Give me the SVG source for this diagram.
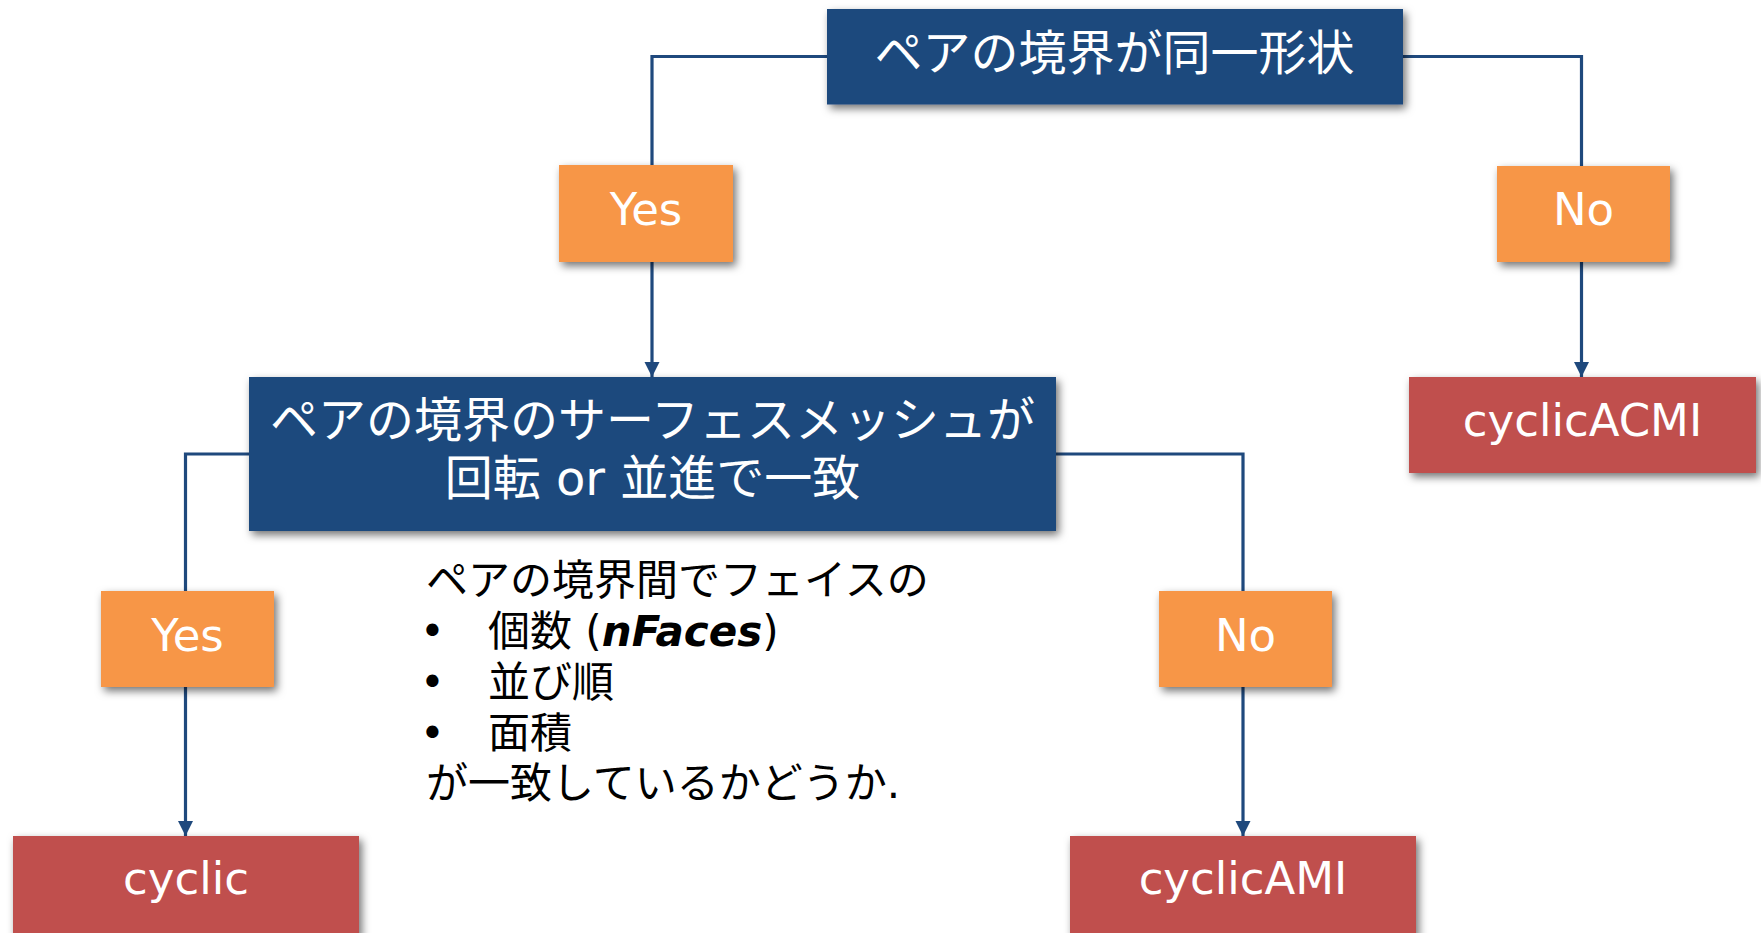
<svg xmlns="http://www.w3.org/2000/svg" width="1761" height="933" viewBox="0 0 1761 933">
<style>
.t{font-family:"DejaVu Sans","Noto Sans CJK JP",sans-serif;}
.w{fill:#ffffff;text-anchor:middle;}
.q{font-size:48px;}
.l{font-size:45px;}
.blue{fill:#1F497D;}
.org{fill:#F79646;}
.red{fill:#C0504D;}
.c{fill:none;stroke:#1F497D;stroke-width:3.2;}
.body{font-size:42px;fill:#000000;}
</style>
<defs>
<filter id="sh" x="-20%" y="-30%" width="140%" height="170%">
<feDropShadow dx="3" dy="4" stdDeviation="4" flood-color="#000" flood-opacity="0.55"/>
</filter>
<marker id="ah" markerUnits="userSpaceOnUse" markerWidth="16" markerHeight="16" refX="15" refY="7.5" orient="auto">
<path d="M0,0 L15,7.5 L0,15 z" fill="#1F497D"/>
</marker>
</defs>
<rect width="1761" height="933" fill="#ffffff"/>
<g id="connectors">
<path class="c" d="M827,56.5 H652 V166"/>
<path class="c" d="M1402,56.5 H1581.5 V166"/>
<path class="c" d="M652,261 V377" marker-end="url(#ah)"/>
<path class="c" d="M1581.5,261 V377" marker-end="url(#ah)"/>
<path class="c" d="M250,454 H185.5 V592"/>
<path class="c" d="M1055,454 H1243 V592"/>
<path class="c" d="M185.5,686 V836" marker-end="url(#ah)"/>
<path class="c" d="M1243,686 V836" marker-end="url(#ah)"/>
</g>
<g id="q1">
<rect class="blue" x="827" y="9" width="576" height="95.5" filter="url(#sh)"/>
<text class="t w q" x="1114.5" y="70">ペアの境界が同一形状</text>
</g>
<g id="yes1">
<rect class="org" x="559" y="165" width="174" height="97" filter="url(#sh)"/>
<text class="t w l" x="646" y="225">Yes</text>
</g>
<g id="no1">
<rect class="org" x="1497" y="166" width="173" height="96" filter="url(#sh)"/>
<text class="t w l" x="1583.5" y="225">No</text>
</g>
<g id="q2">
<rect class="blue" x="249" y="377" width="807" height="154" filter="url(#sh)"/>
<text class="t w q" x="652.5" y="437">ペアの境界のサーフェスメッシュが</text>
<text class="t w q" x="652.5" y="495">回転 or 並進で一致</text>
</g>
<g id="acmi">
<rect class="red" x="1409" y="377" width="347" height="96" filter="url(#sh)"/>
<text class="t w l" x="1582.5" y="436">cyclicACMI</text>
</g>
<g id="yes2">
<rect class="org" x="101" y="591" width="173" height="96" filter="url(#sh)"/>
<text class="t w l" x="187.5" y="651">Yes</text>
</g>
<g id="no2">
<rect class="org" x="1159" y="591" width="173" height="96" filter="url(#sh)"/>
<text class="t w l" x="1245.5" y="651">No</text>
</g>
<g id="cyclic">
<rect class="red" x="13" y="836" width="346" height="100" filter="url(#sh)"/>
<text class="t w l" x="186" y="894">cyclic</text>
</g>
<g id="ami">
<rect class="red" x="1070" y="836" width="346" height="100" filter="url(#sh)"/>
<text class="t w l" x="1243" y="894">cyclicAMI</text>
</g>
<g id="note">
<text class="t body" x="426" y="595">ペアの境界間でフェイスの</text>
<text class="t body" y="646"><tspan x="420">•</tspan><tspan x="488">個数 (</tspan><tspan font-weight="bold" font-style="italic">nFaces</tspan><tspan>)</tspan></text>
<text class="t body" y="697"><tspan x="420">•</tspan><tspan x="488">並び順</tspan></text>
<text class="t body" y="748"><tspan x="420">•</tspan><tspan x="488">面積</tspan></text>
<text class="t body" x="426" y="798">が一致しているかどうか.</text>
</g>
</svg>
